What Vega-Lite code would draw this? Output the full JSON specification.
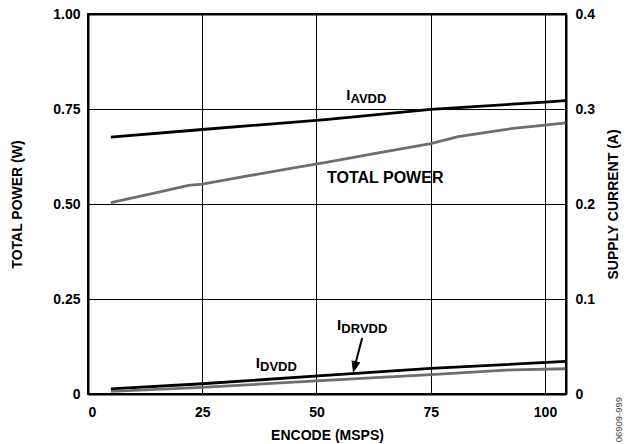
{
  "$schema": "https://vega.github.io/schema/vega-lite/v6.json",
  "width": 478,
  "height": 380,
  "autosize": {"type": "none"},
  "padding": {"left": 88, "top": 14, "right": 63, "bottom": 50},
  "background": "white",
  "config": {
    "view": {"stroke": "#000", "strokeWidth": 2},
    "font": "Liberation Sans",
    "axis": {
      "labelFont": "Liberation Sans",
      "labelFontWeight": "bold",
      "labelFontSize": 14,
      "labelColor": "#000",
      "titleFont": "Liberation Sans",
      "titleFontWeight": "bold",
      "titleFontSize": 14,
      "titleColor": "#000",
      "domain": true,
      "domainColor": "#000",
      "domainWidth": 2,
      "ticks": false,
      "tickSize": 0,
      "gridColor": "#000",
      "gridWidth": 1,
      "gridOpacity": 1
    }
  },
  "datasets": {
    "power": [
      {"msps": 5, "w": 0.5035},
      {"msps": 15, "w": 0.530},
      {"msps": 22, "w": 0.549},
      {"msps": 25, "w": 0.5525},
      {"msps": 35, "w": 0.574},
      {"msps": 45, "w": 0.595},
      {"msps": 52.4, "w": 0.610},
      {"msps": 62, "w": 0.631},
      {"msps": 75, "w": 0.659},
      {"msps": 81, "w": 0.677},
      {"msps": 93, "w": 0.699},
      {"msps": 100, "w": 0.7075},
      {"msps": 104.5, "w": 0.7137}
    ],
    "powerLabel": [
      {"msps": 52.3, "w": 0.5696, "text": "TOTAL POWER"}
    ],
    "note": [
      {"msps": 116.2, "w": -0.0675, "text": "06909-999"}
    ],
    "current": [
      {"msps": 5, "a": 0.2704, "series": "IAVDD"},
      {"msps": 25, "a": 0.2784, "series": "IAVDD"},
      {"msps": 52, "a": 0.2889, "series": "IAVDD"},
      {"msps": 75, "a": 0.2996, "series": "IAVDD"},
      {"msps": 100, "a": 0.3073, "series": "IAVDD"},
      {"msps": 104.5, "a": 0.3089, "series": "IAVDD"},
      {"msps": 5, "a": 0.0053, "series": "IDVDD"},
      {"msps": 25, "a": 0.0108, "series": "IDVDD"},
      {"msps": 52, "a": 0.0196, "series": "IDVDD"},
      {"msps": 75, "a": 0.0269, "series": "IDVDD"},
      {"msps": 104.5, "a": 0.0343, "series": "IDVDD"},
      {"msps": 5, "a": 0.0028, "series": "IDRVDD"},
      {"msps": 25, "a": 0.0070, "series": "IDRVDD"},
      {"msps": 52, "a": 0.0143, "series": "IDRVDD"},
      {"msps": 75, "a": 0.0203, "series": "IDRVDD"},
      {"msps": 93, "a": 0.0255, "series": "IDRVDD"},
      {"msps": 104.5, "a": 0.0266, "series": "IDRVDD"}
    ],
    "currentLabels": [
      {"msps": 56.5, "a": 0.3093, "main": "I", "sub": "AVDD"},
      {"msps": 36.7, "a": 0.0273, "main": "I", "sub": "DVDD"},
      {"msps": 54.5, "a": 0.0676, "main": "I", "sub": "DRVDD"}
    ],
    "arrow": [
      {"msps": 60.0, "a": 0.0589, "msps2": 58.3, "a2": 0.028}
    ],
    "arrowHead": [
      {"msps": 58.0, "a": 0.0221}
    ]
  },
  "layer": [
    {
      "layer": [
        {
          "data": {"name": "power"},
          "mark": {"type": "line", "color": "#6e6e6e", "strokeWidth": 2.8},
          "encoding": {
            "x": {
              "field": "msps", "type": "quantitative",
              "scale": {"domain": [0, 104.6], "nice": false, "zero": false},
              "axis": {
                "values": [0, 25, 50, 75, 100],
                "grid": true,
                "labelPadding": 11,
                "title": "ENCODE (MSPS)",
                "titlePadding": 9
              }
            },
            "y": {
              "field": "w", "type": "quantitative",
              "scale": {"domain": [0, 1], "nice": false},
              "axis": {
                "orient": "left",
                "values": [0, 0.25, 0.5, 0.75, 1],
                "labelExpr": "datum.value == 0 ? '0' : format(datum.value, '.2f')",
                "grid": true,
                "gridWidth": {"condition": {"test": "datum.value == 1", "value": 2}, "value": 1},
                "labelPadding": 8,
                "title": "TOTAL POWER (W)",
                "titlePadding": 28
              }
            }
          }
        },
        {
          "data": {"name": "powerLabel"},
          "mark": {"type": "text", "align": "left", "baseline": "middle", "font": "Liberation Sans", "fontWeight": "bold", "fontSize": 16, "color": "#000"},
          "encoding": {
            "x": {"field": "msps", "type": "quantitative"},
            "y": {"field": "w", "type": "quantitative"},
            "text": {"field": "text"}
          }
        },
        {
          "data": {"name": "note"},
          "mark": {"type": "text", "align": "center", "baseline": "middle", "angle": 270, "font": "Liberation Sans", "fontSize": 9.5, "color": "#444"},
          "encoding": {
            "x": {"field": "msps", "type": "quantitative"},
            "y": {"field": "w", "type": "quantitative"},
            "text": {"field": "text"}
          }
        }
      ]
    },
    {
      "layer": [
        {
          "data": {"name": "current"},
          "mark": {"type": "line", "strokeWidth": 2.8},
          "encoding": {
            "x": {"field": "msps", "type": "quantitative"},
            "y": {
              "field": "a", "type": "quantitative",
              "scale": {"domain": [0, 0.4], "nice": false},
              "axis": {
                "orient": "right",
                "values": [0, 0.1, 0.2, 0.3, 0.4],
                "labelExpr": "datum.value == 0 ? '0' : format(datum.value, '.1f')",
                "grid": false,
                "labelPadding": 9,
                "title": "SUPPLY CURRENT (A)",
                "titleAngle": 270,
                "titlePadding": 26
              }
            },
            "color": {
              "field": "series", "type": "nominal",
              "scale": {"domain": ["IAVDD", "IDVDD", "IDRVDD"], "range": ["#000000", "#000000", "#6e6e6e"]},
              "legend": null
            }
          }
        },
        {
          "data": {"name": "arrow"},
          "mark": {"type": "rule", "color": "#000", "strokeWidth": 2},
          "encoding": {
            "x": {"field": "msps", "type": "quantitative"},
            "y": {"field": "a", "type": "quantitative"},
            "x2": {"field": "msps2"},
            "y2": {"field": "a2"}
          }
        },
        {
          "data": {"name": "arrowHead"},
          "mark": {"type": "point", "shape": "M0,0L-0.38,-1L0.38,-1Z", "size": 576, "angle": 14, "filled": true, "color": "#000", "opacity": 1},
          "encoding": {
            "x": {"field": "msps", "type": "quantitative"},
            "y": {"field": "a", "type": "quantitative"}
          }
        },
        {
          "data": {"name": "currentLabels"},
          "mark": {"type": "text", "align": "left", "baseline": "alphabetic", "font": "Liberation Sans", "fontWeight": "bold", "fontSize": 15, "color": "#000"},
          "encoding": {
            "x": {"field": "msps", "type": "quantitative"},
            "y": {"field": "a", "type": "quantitative"},
            "text": {"field": "main"}
          }
        },
        {
          "data": {"name": "currentLabels"},
          "mark": {"type": "text", "align": "left", "baseline": "alphabetic", "dx": 4.3, "dy": 3, "font": "Liberation Sans", "fontWeight": "bold", "fontSize": 13, "color": "#000"},
          "encoding": {
            "x": {"field": "msps", "type": "quantitative"},
            "y": {"field": "a", "type": "quantitative"},
            "text": {"field": "sub"}
          }
        }
      ]
    }
  ],
  "resolve": {"scale": {"y": "independent"}, "axis": {"y": "independent"}}
}
